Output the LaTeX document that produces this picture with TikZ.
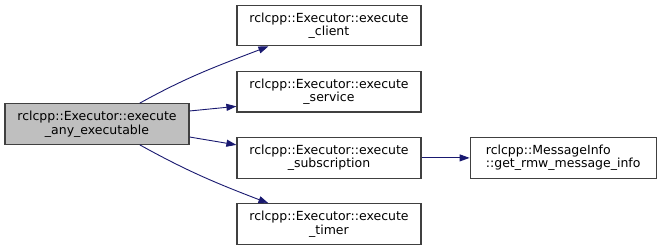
\documentclass[tikz,border=0pt]{standalone}
\usepackage{fontspec}
\setmainfont{DejaVu Sans}
\usepackage{xcolor}
\usetikzlibrary{arrows.meta,positioning}
\definecolor{edgeblue}{HTML}{191970}
\definecolor{boxline}{HTML}{404040}
\definecolor{rootgray}{HTML}{BFBFBF}
\tikzset{
  fnbox/.style={draw=boxline,line width=1.2pt,fill=white,align=center,
    minimum width=184pt,minimum height=40.5pt,inner sep=0pt,
    font=\fontsize{12.5}{13.5}\selectfont},
  rootbox/.style={fnbox,fill=rootgray},
  call/.style={-{Triangle[length=10pt,width=7pt]},line width=0.9pt,draw=edgeblue}
}
\begin{document}
\begin{tikzpicture}[x=1pt,y=1pt,node distance=24.5pt and 48pt]
  \useasboundingbox (0,0) rectangle (660,248);
  \node[rootbox] (anyexec) at (97,124) {rclcpp::Executor::execute\\\_any\_executable};
  \node[fnbox] (client) at (329,222.5) {rclcpp::Executor::execute\\\_client};
  \node[fnbox,below=of client] (service) {rclcpp::Executor::execute\\\_service};
  \node[fnbox,below=of service] (subscr) {rclcpp::Executor::execute\\\_subscription};
  \node[fnbox,below=of subscr] (timer) {rclcpp::Executor::execute\\\_timer};
  \node[fnbox,right=of subscr,minimum width=186pt,align=left] (msginfo)
    {rclcpp::MessageInfo\\::get\_rmw\_message\_info};
  \draw[call] (anyexec.26) to[out=29,in=201] (client.199);
  \draw[call] (anyexec.8) -- (service.189);
  \draw[call] (anyexec.-8) -- (subscr.172);
  \draw[call] (anyexec.-26) to[out=-29,in=159] (timer.161);
  \draw[call] (subscr) -- (msginfo);
\end{tikzpicture}
\end{document}
